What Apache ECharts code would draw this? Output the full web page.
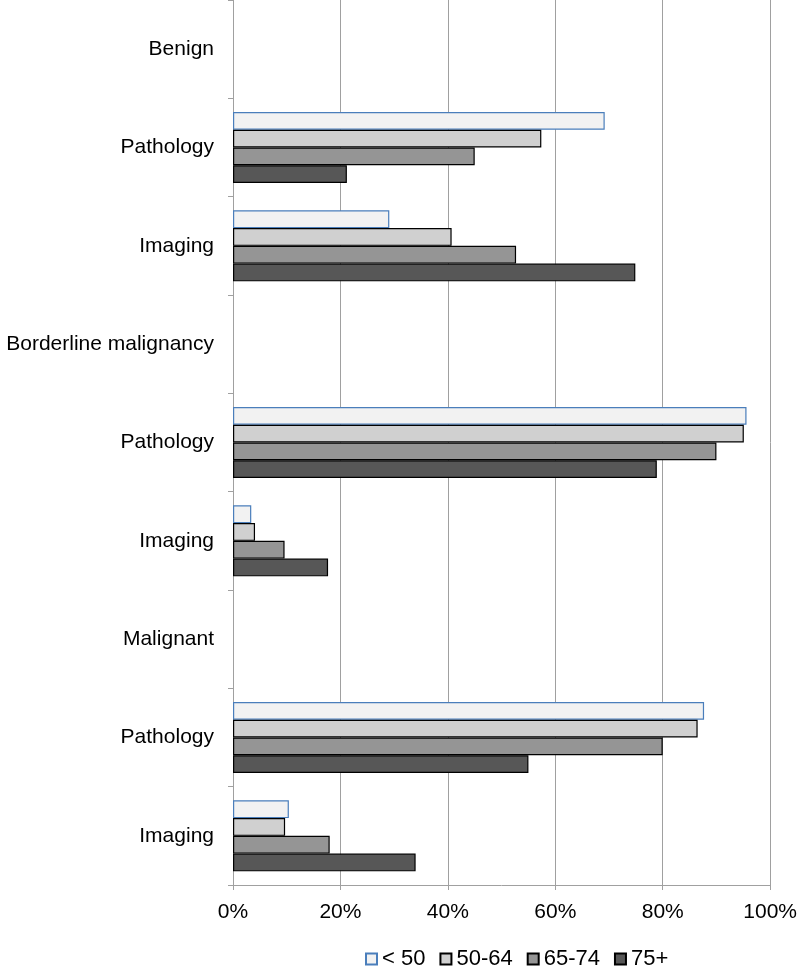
<!DOCTYPE html>
<html>
<head>
<meta charset="utf-8">
<script src="https://cdn.jsdelivr.net/npm/echarts@6/dist/echarts.min.js"></script>
<style>html,body{margin:0;padding:0;background:#fff}#c{width:800px;height:966px}</style>
</head>
<body>
<div id="c"></div>
<script>
var categories = ['Benign','Pathology','Imaging','Borderline malignancy','Pathology','Imaging','Malignant','Pathology','Imaging'];
var seriesNames = ['< 50','50-64','65-74','75+'];
var under50 = [null, 69.2, 29.1, null, 95.6, 3.4, null, 87.7, 10.4];
var age50_64 = [null, 57.4, 40.7, null, 95.1, 4.1, null, 86.5, 9.7];
var age65_74 = [null, 45.0, 52.7, null, 90.0, 9.6, null, 80.0, 18.0];
var age75plus = [null, 21.2, 74.9, null, 78.9, 17.7, null, 55.0, 34.0];
var xTicks = [0, 20, 40, 60, 80, 100];

var fills = ['#f2f2f2', '#d0d0d0', '#959595', '#575757'];
var borders = ['#4a7ebb', '#000000', '#000000', '#000000'];
var values = [under50, age50_64, age65_74, age75plus];

var chart = echarts.init(document.getElementById('c'), null, {renderer: 'canvas'});
var font = '"Liberation Sans", Arial, sans-serif';
chart.setOption({
  animation: false,
  backgroundColor: '#ffffff',
  grid: {left: 233, right: 26, top: 0, bottom: 81, containLabel: false},
  xAxis: {
    type: 'value', min: xTicks[0], max: xTicks[xTicks.length - 1], interval: 20,
    axisLine: {show: true, lineStyle: {color: '#a0a0a0', width: 1}},
    axisTick: {show: true, length: 5, lineStyle: {color: '#a0a0a0'}},
    splitLine: {show: true, lineStyle: {color: '#a0a0a0', width: 1}},
    axisLabel: {formatter: '{value}%', color: '#000', fontSize: 21, fontFamily: font, margin: 17}
  },
  yAxis: {
    type: 'category', data: categories, inverse: true,
    axisLine: {show: true, lineStyle: {color: '#a0a0a0', width: 1}},
    axisTick: {show: true, length: 5, lineStyle: {color: '#a0a0a0'}},
    axisLabel: {color: '#000', fontSize: 21, fontFamily: font, margin: 19, padding: [5, 0, 0, 0]}
  },
  legend: {
    top: 943, left: 360, icon: 'rect', itemWidth: 11, itemHeight: 11, itemGap: 14,
    textStyle: {color: '#000', fontSize: 22, fontFamily: font},
    data: seriesNames
  },
  series: seriesNames.map(function (n, i) {
    return {
      name: n, type: 'bar', data: values[i],
      barGap: '0%', barCategoryGap: '27.8%',
      itemStyle: {color: fills[i], borderColor: borders[i], borderWidth: 1.2}
    };
  })
});
</script>
</body>
</html>
